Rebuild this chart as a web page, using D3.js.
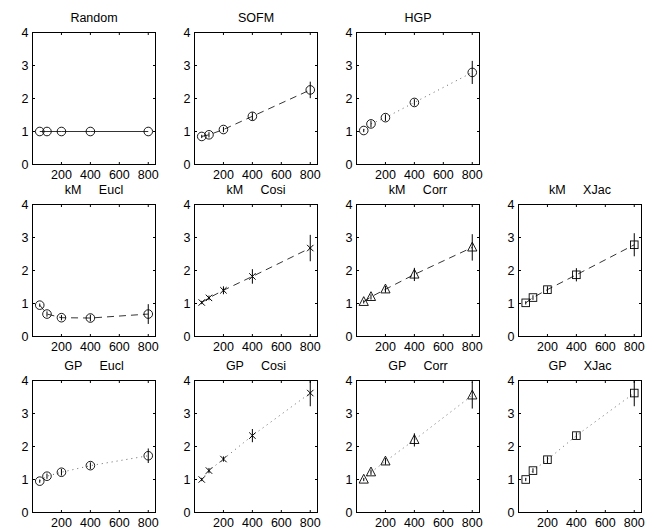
<!DOCTYPE html>
<html>
<head>
<meta charset="utf-8">
<script src="https://cdn.jsdelivr.net/npm/d3@7"></script>
<style>
  body { margin: 0; background: #fff; }
  svg { display: block; }
  text { font-family: "Liberation Sans", Arial, sans-serif; fill: #000; }
</style>
</head>
<body>
<script>
// sample sizes on the x axis and tick labels
const nValues = [50, 100, 200, 400, 800];
const xTicks = [200, 400, 600, 800];
const yTicks = [0, 1, 2, 3, 4];

// mean values and error half-widths
const randomMean = [1.0, 1.0, 1.0, 1.0, 1.0];
const randomErr  = [0.0, 0.0, 0.0, 0.0, 0.0];
const sofmMean   = [0.85, 0.90, 1.06, 1.46, 2.26];
const sofmErr    = [0.05, 0.08, 0.08, 0.12, 0.25];
const hgpMean    = [1.03, 1.23, 1.42, 1.88, 2.79];
const hgpErr     = [0.05, 0.10, 0.10, 0.10, 0.35];
const kmEuclMean = [0.95, 0.68, 0.57, 0.56, 0.68];
const kmEuclErr  = [0.05, 0.08, 0.08, 0.10, 0.30];
const kmCosiMean = [1.03, 1.17, 1.40, 1.82, 2.68];
const kmCosiErr  = [0.05, 0.07, 0.12, 0.22, 0.40];
const kmCorrMean = [1.05, 1.20, 1.43, 1.88, 2.70];
const kmCorrErr  = [0.05, 0.08, 0.10, 0.20, 0.40];
const kmXJacMean = [1.02, 1.18, 1.42, 1.87, 2.78];
const kmXJacErr  = [0.05, 0.07, 0.10, 0.20, 0.35];
const gpEuclMean = [0.95, 1.10, 1.22, 1.42, 1.72];
const gpEuclErr  = [0.05, 0.08, 0.10, 0.10, 0.22];
const gpCosiMean = [1.00, 1.27, 1.62, 2.33, 3.62];
const gpCosiErr  = [0.05, 0.08, 0.08, 0.20, 0.40];
const gpCorrMean = [1.00, 1.22, 1.55, 2.20, 3.55];
const gpCorrErr  = [0.05, 0.08, 0.10, 0.20, 0.40];
const gpXJacMean = [1.00, 1.27, 1.60, 2.33, 3.62];
const gpXJacErr  = [0.05, 0.07, 0.10, 0.10, 0.40];

const panelTitles = ["Random", "SOFM", "HGP",
  "kM     Eucl", "kM     Cosi", "kM     Corr", "kM     XJac",
  "GP     Eucl", "GP     Cosi", "GP     Corr", "GP     XJac"];

// layout (MATLAB subplot grid)
const colLeft = [32.5, 194.5, 356.5, 518.5];
const rowTop = [32.5, 204.5, 380.5];
const boxW = 123, boxH = 132;

const panels = [
  {title: panelTitles[0],  row: 0, col: 0, mean: randomMean, err: randomErr,  marker: "o", line: "solid"},
  {title: panelTitles[1],  row: 0, col: 1, mean: sofmMean,   err: sofmErr,    marker: "o", line: "dash"},
  {title: panelTitles[2],  row: 0, col: 2, mean: hgpMean,    err: hgpErr,     marker: "o", line: "dot"},
  {title: panelTitles[3],  row: 1, col: 0, mean: kmEuclMean, err: kmEuclErr,  marker: "o", line: "dash"},
  {title: panelTitles[4],  row: 1, col: 1, mean: kmCosiMean, err: kmCosiErr,  marker: "x", line: "dash"},
  {title: panelTitles[5],  row: 1, col: 2, mean: kmCorrMean, err: kmCorrErr,  marker: "^", line: "dash"},
  {title: panelTitles[6],  row: 1, col: 3, mean: kmXJacMean, err: kmXJacErr,  marker: "s", line: "dash"},
  {title: panelTitles[7],  row: 2, col: 0, mean: gpEuclMean, err: gpEuclErr,  marker: "o", line: "dot"},
  {title: panelTitles[8],  row: 2, col: 1, mean: gpCosiMean, err: gpCosiErr,  marker: "x", line: "dot"},
  {title: panelTitles[9],  row: 2, col: 2, mean: gpCorrMean, err: gpCorrErr,  marker: "^", line: "dot"},
  {title: panelTitles[10], row: 2, col: 3, mean: gpXJacMean, err: gpXJacErr,  marker: "s", line: "dot"}
];

const svg = d3.select("body").append("svg")
  .attr("width", 652)
  .attr("height", 529);

svg.append("rect").attr("width", 652).attr("height", 529).attr("fill", "#fff");

const fontSize = 12.5;
const tickLen = 2.5;

panels.forEach((p, i) => {
  const left = colLeft[p.col], top = rowTop[p.row];
  const x = d3.scaleLinear().domain([0, 850]).range([left, left + boxW]);
  const y = d3.scaleLinear().domain([0, 4]).range([top + boxH, top]);

  const g = svg.append("g").attr("class", "panel");
  const clipId = "clip" + i;
  g.append("clipPath").attr("id", clipId)
    .append("rect").attr("x", left).attr("y", top).attr("width", boxW).attr("height", boxH);

  // data layer
  const plot = g.append("g").attr("clip-path", `url(#${clipId})`);
  const pts = nValues.map((n, k) => ({n: n, m: p.mean[k], e: p.err[k]}));

  const line = d3.line().x(d => x(d.n)).y(d => y(d.m));
  plot.append("path")
    .datum(pts)
    .attr("d", line)
    .attr("fill", "none")
    .attr("stroke", p.line === "dot" ? "#666" : "#000")
    .attr("stroke-width", p.line === "dot" ? 1 : 0.8)
    .attr("stroke-dasharray", p.line === "dash" ? "7,5" : p.line === "dot" ? "1,4" : null);

  // error bars
  plot.selectAll(".eb").data(pts.filter(d => d.e > 0)).enter().append("line")
    .attr("x1", d => x(d.n)).attr("x2", d => x(d.n))
    .attr("y1", d => y(d.m - d.e)).attr("y2", d => y(d.m + d.e))
    .attr("stroke", "#000").attr("stroke-width", 1);

  // markers
  const mk = plot.selectAll(".mk").data(pts).enter().append("g")
    .attr("transform", d => `translate(${x(d.n)},${y(d.m)})`);
  if (p.marker === "o") {
    mk.append("circle").attr("r", 4.3).attr("fill", "none").attr("stroke", "#000").attr("stroke-width", 0.9);
  } else if (p.marker === "s") {
    mk.append("rect").attr("x", -3.8).attr("y", -3.8).attr("width", 7.6).attr("height", 7.6)
      .attr("fill", "none").attr("stroke", "#000").attr("stroke-width", 0.9);
  } else if (p.marker === "^") {
    mk.append("path").attr("d", "M0,-5.2L4.6,3.6L-4.6,3.6Z")
      .attr("fill", "none").attr("stroke", "#000").attr("stroke-width", 0.9);
  } else if (p.marker === "x") {
    mk.append("path").attr("d", "M-3.2,-3.2L3.2,3.2M-3.2,3.2L3.2,-3.2")
      .attr("fill", "none").attr("stroke", "#000").attr("stroke-width", 1);
  }

  // ticks inside on all four sides
  const ax = g.append("g");
  xTicks.forEach(t => {
    ax.append("line").attr("x1", x(t)).attr("x2", x(t)).attr("y1", top + boxH).attr("y2", top + boxH - tickLen)
      .attr("stroke", "#000").attr("stroke-width", 1);
    ax.append("line").attr("x1", x(t)).attr("x2", x(t)).attr("y1", top).attr("y2", top + tickLen)
      .attr("stroke", "#000").attr("stroke-width", 1);
  });
  yTicks.forEach(t => {
    ax.append("line").attr("x1", left).attr("x2", left + tickLen).attr("y1", y(t)).attr("y2", y(t))
      .attr("stroke", "#000").attr("stroke-width", 1);
    ax.append("line").attr("x1", left + boxW).attr("x2", left + boxW - tickLen).attr("y1", y(t)).attr("y2", y(t))
      .attr("stroke", "#000").attr("stroke-width", 1);
  });

  // box
  ax.append("rect").attr("x", left).attr("y", top).attr("width", boxW).attr("height", boxH)
    .attr("fill", "none").attr("stroke", "#000").attr("stroke-width", 1);

  // tick labels
  ax.selectAll(".xl").data(xTicks).enter().append("text")
    .attr("x", d => x(d)).attr("y", top + boxH + 14.5)
    .attr("text-anchor", "middle").attr("font-size", fontSize)
    .text(d => d);
  ax.selectAll(".yl").data(yTicks).enter().append("text")
    .attr("x", left - 4).attr("y", d => y(d) + 4.5)
    .attr("text-anchor", "end").attr("font-size", fontSize)
    .text(d => d);

  // title
  g.append("text")
    .attr("x", left + boxW / 2).attr("y", top - 11)
    .attr("text-anchor", "middle").attr("font-size", fontSize)
    .style("white-space", "pre")
    .text(p.title);
});
</script>
</body>
</html>
